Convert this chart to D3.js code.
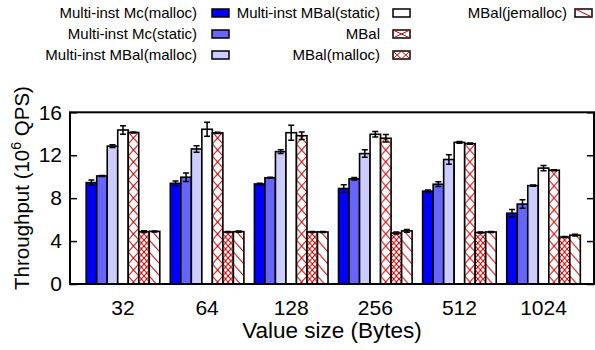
<!DOCTYPE html>
<html>
<head>
<meta charset="utf-8">
<script src="https://cdn.jsdelivr.net/npm/d3@7"></script>
<style>
  body { margin: 0; background: #fff; }
  text { font-family: "Liberation Sans", Arial, Helvetica, sans-serif; fill: #000; }
</style>
</head>
<body>
<svg id="chart" width="595" height="350"></svg>
<script>
// categories (value size in bytes)
const groups = ["32", "64", "128", "256", "512", "1024"];
const seriesNames = ["Multi-inst Mc(malloc)", "Multi-inst Mc(static)", "Multi-inst MBal(malloc)",
  "Multi-inst MBal(static)", "MBal", "MBal(malloc)", "MBal(jemalloc)"];

// throughput in 10^6 QPS, one array per series
const mcMalloc        = [9.45, 9.38, 9.32, 8.90, 8.65, 6.60];
const mcStatic        = [10.07, 9.95, 9.90, 9.80, 9.30, 7.45];
const mbalMallocMulti = [12.85, 12.58, 12.33, 12.15, 11.60, 9.17];
const mbalStaticMulti = [14.35, 14.42, 14.10, 13.95, 13.20, 10.80];
const mbal            = [14.12, 14.08, 13.82, 13.58, 13.08, 10.60];
const mbalMalloc      = [4.88, 4.85, 4.85, 4.75, 4.80, 4.38];
const mbalJemalloc    = [4.90, 4.88, 4.85, 4.95, 4.85, 4.55];

// error bar half-widths
const mcMallocErr        = [0.25, 0.22, 0.08, 0.35, 0.12, 0.35];
const mcStaticErr        = [0.05, 0.40, 0.05, 0.12, 0.22, 0.40];
const mbalMallocMultiErr = [0.12, 0.30, 0.18, 0.35, 0.45, 0.05];
const mbalStaticMultiErr = [0.40, 0.65, 0.70, 0.25, 0.08, 0.25];
const mbalErr            = [0.05, 0.05, 0.35, 0.35, 0.05, 0.05];
const mbalMallocErr      = [0.08, 0.05, 0.05, 0.10, 0.05, 0.05];
const mbalJemallocErr    = [0.05, 0.05, 0.05, 0.12, 0.05, 0.08];

const yTicks = [0, 4, 8, 12, 16];

const values = [mcMalloc, mcStatic, mbalMallocMulti, mbalStaticMulti, mbal, mbalMalloc, mbalJemalloc];
const errors = [mcMallocErr, mcStaticErr, mbalMallocMultiErr, mbalStaticMultiErr, mbalErr, mbalMallocErr, mbalJemallocErr];
const fills = ["#0000ff", "#6666ff", "#ccccff", "#ffffff", "url(#cross)", "url(#dense)", "url(#diag)"];
const hatch = "#cc0000";

const svg = d3.select("#chart");
const plotLeft = 70, plotRight = 594, plotTop = 112.3, plotBottom = 284;

const x = d3.scaleLinear().domain([-0.63, 5.6]).range([plotLeft, plotRight]);
const y = d3.scaleLinear().domain([0, 16]).range([plotBottom, plotTop]);
const barW = (x(1) - x(0)) / 8;

// hatch patterns
const defs = svg.append("defs");
const cross = defs.append("pattern").attr("id", "cross")
  .attr("patternUnits", "userSpaceOnUse").attr("width", barW).attr("height", 12);
cross.append("rect").attr("width", barW).attr("height", 12).attr("fill", "#fff");
cross.append("path").attr("d", `M0,0L${barW},12M${barW},0L0,12`)
  .attr("stroke", hatch).attr("stroke-width", 1).attr("fill", "none");

const dense = defs.append("pattern").attr("id", "dense")
  .attr("patternUnits", "userSpaceOnUse").attr("width", barW / 2).attr("height", 6);
dense.append("rect").attr("width", barW / 2).attr("height", 6).attr("fill", "#fff");
dense.append("path").attr("d", `M0,0L${barW / 2},6M${barW / 2},0L0,6`)
  .attr("stroke", hatch).attr("stroke-width", 1).attr("fill", "none");

const diag = defs.append("pattern").attr("id", "diag")
  .attr("patternUnits", "userSpaceOnUse").attr("width", barW).attr("height", 12);
diag.append("rect").attr("width", barW).attr("height", 12).attr("fill", "#fff");
diag.append("path").attr("d", `M0,0L${barW},12M${-barW},0L0,12M${barW},-12L${2 * barW},0`)
  .attr("stroke", hatch).attr("stroke-width", 1).attr("fill", "none");

// bars
const bars = [];
groups.forEach((g, i) => {
  values.forEach((arr, j) => {
    bars.push({ i, j, v: arr[i], e: errors[j][i] });
  });
});

const barG = svg.append("g").selectAll("g").data(bars).enter().append("g")
  .attr("transform", d => `translate(${x(d.i) - 3.5 * barW + d.j * barW},0)`);

barG.append("rect")
  .attr("x", 0)
  .attr("y", d => y(d.v))
  .attr("width", barW)
  .attr("height", d => y(0) - y(d.v))
  .attr("fill", d => fills[d.j])
  .attr("stroke", "#000")
  .attr("stroke-width", 1.6);

// error bars
const capW = 3;
barG.append("path")
  .attr("d", d => {
    const cx = barW / 2, y1 = y(d.v + d.e), y2 = y(d.v - d.e);
    return `M${cx},${y1}L${cx},${y2}M${cx - capW},${y1}L${cx + capW},${y1}M${cx - capW},${y2}L${cx + capW},${y2}`;
  })
  .attr("stroke", "#000").attr("stroke-width", 1.5).attr("fill", "none");

// frame
svg.append("rect").attr("x", plotLeft).attr("y", plotTop)
  .attr("width", plotRight - plotLeft).attr("height", plotBottom - plotTop)
  .attr("fill", "none").attr("stroke", "#000").attr("stroke-width", 2);

// y axis ticks (inward, mirrored)
const yAxis = svg.append("g").attr("transform", `translate(${plotLeft},0)`)
  .call(d3.axisLeft(y).tickValues(yTicks).tickSize(-7).tickPadding(8));
yAxis.select(".domain").remove();
yAxis.selectAll("line").attr("stroke-width", 1.5);
yAxis.selectAll("text").style("font-size", "21px").attr("font-family", null);

const yAxisR = svg.append("g").attr("transform", `translate(${plotRight},0)`)
  .call(d3.axisRight(y).tickValues(yTicks).tickSize(-7).tickFormat(""));
yAxisR.select(".domain").remove();
yAxisR.selectAll("line").attr("stroke-width", 1.5);

// x tick labels
svg.append("g").selectAll("text").data(groups).enter().append("text")
  .attr("x", (d, i) => x(i))
  .attr("y", 315)
  .attr("text-anchor", "middle")
  .style("font-size", "21px")
  .text(d => d);

// axis titles
svg.append("text").attr("x", 332).attr("y", 338)
  .attr("text-anchor", "middle").style("font-size", "22.5px")
  .text("Value size (Bytes)");

const yt = svg.append("text")
  .attr("transform", "translate(29,188) rotate(-90)")
  .attr("text-anchor", "middle").style("font-size", "20.5px");
yt.append("tspan").text("Throughput (10");
yt.append("tspan").attr("dy", -8).style("font-size", "14px").text("6");
yt.append("tspan").attr("dy", 8).text(" QPS)");

// legend
const legendPos = [
  { tx: 197, sx: 212, y: 13 }, { tx: 197, sx: 212, y: 34 }, { tx: 197, sx: 212, y: 55 },
  { tx: 380, sx: 393, y: 13 }, { tx: 380, sx: 393, y: 34 }, { tx: 380, sx: 393, y: 55 },
  { tx: 567, sx: 575, y: 13 }
];
const sw = 17, sh = 8;
const leg = svg.append("g").selectAll("g").data(seriesNames).enter().append("g")
  .attr("transform", (d, k) => `translate(0,${legendPos[k].y})`);
leg.append("text")
  .attr("x", (d, k) => legendPos[k].tx)
  .attr("y", 5)
  .attr("text-anchor", "end")
  .style("font-size", "15px")
  .text(d => d);
leg.append("rect")
  .attr("x", (d, k) => legendPos[k].sx)
  .attr("y", -sh / 2)
  .attr("width", sw).attr("height", sh)
  .attr("fill", (d, k) => k < 4 ? fills[k] : "#fff")
  .attr("stroke", "#000").attr("stroke-width", 1.5);
leg.append("path")
  .attr("d", (d, k) => {
    const x0 = legendPos[k].sx, x1 = x0 + sw, y0 = -sh / 2, y1 = sh / 2, xm = x0 + sw / 2;
    if (k === 4) return `M${x0},${y0}L${x1},${y1}M${x1},${y0}L${x0},${y1}`;
    if (k === 5) return `M${x0},${y0}L${xm},${y1}M${xm},${y0}L${x0},${y1}M${xm},${y0}L${x1},${y1}M${x1},${y0}L${xm},${y1}`;
    if (k === 6) return `M${x0},${y0}L${x1},${y1}`;
    return "";
  })
  .attr("stroke", hatch).attr("stroke-width", 1).attr("fill", "none");
</script>
</body>
</html>
